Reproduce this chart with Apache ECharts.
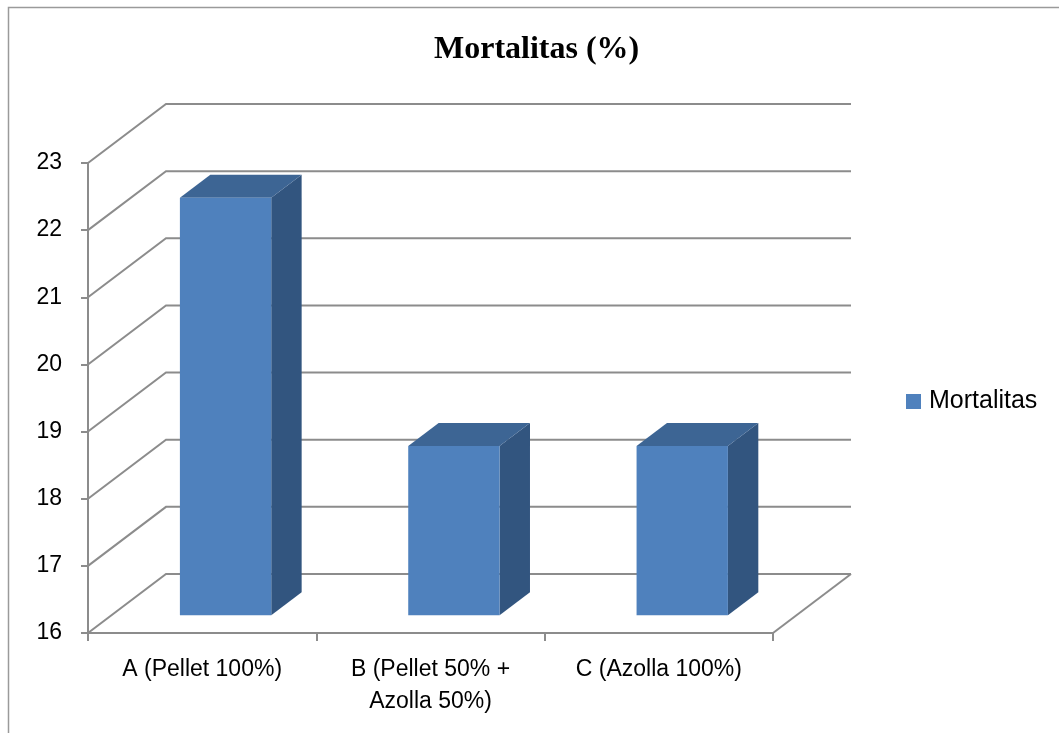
<!DOCTYPE html>
<html>
<head>
<meta charset="utf-8">
<script src="https://cdn.jsdelivr.net/npm/echarts@6/dist/echarts.min.js"></script>
<style>
  html, body { margin: 0; padding: 0; background: #ffffff; }
  #chart { width: 1059px; height: 733px; }
</style>
</head>
<body>
<div id="chart"></div>
<script>
// Treatments and mortality (%)
const categories = ['A (Pellet 100%)', 'B (Pellet 50% +\nAzolla 50%)', 'C (Azolla 100%)'];
const mortalitas = [22.22, 18.52, 18.52];
const yTicks = [16, 17, 18, 19, 20, 21, 22, 23];
const seriesName = 'Mortalitas';

// Oblique depth of the pseudo-3D box (pixels) and bar placement within it
const DEPTH_X = 78;
const DEPTH_Y = -59;
const BAR_FRONT = 0.30;
const BAR_BACK = 0.69;
const BAR_WIDTH_RATIO = 0.40;
const GRID_COLOR = '#8c8c8c';

const chart = echarts.init(document.getElementById('chart'));

// Side wall, back wall and floor lines, one polyline per tick value
function renderWalls(params, api) {
  const cs = params.coordSys;
  const v = api.value(1);
  const y = api.coord([0, v])[1];
  const x0 = cs.x;
  const x1 = cs.x + cs.width;
  const children = [{
    type: 'polyline',
    shape: { points: [[x0, y], [x0 + DEPTH_X, y + DEPTH_Y], [x1 + DEPTH_X, y + DEPTH_Y]] },
    style: { stroke: GRID_COLOR, lineWidth: 2, fill: null }
  }];
  if (v === yTicks[0]) {
    children.push({
      type: 'line',
      shape: { x1: x1, y1: y, x2: x1 + DEPTH_X, y2: y + DEPTH_Y },
      style: { stroke: GRID_COLOR, lineWidth: 2 }
    });
  }
  return { type: 'group', children: children };
}

// Box-shaped bars: front, top and right faces
function renderBar(params, api) {
  const i = api.value(0);
  const v = api.value(1);
  const top = api.coord([i, v]);
  const base = api.coord([i, yTicks[0]]);
  const half = api.size([1, 0])[0] * BAR_WIDTH_RATIO / 2;
  const xl = top[0] - half, xr = top[0] + half;
  const yt = top[1], yb = base[1];
  const fx = DEPTH_X * BAR_FRONT, fy = DEPTH_Y * BAR_FRONT;
  const bx = DEPTH_X * BAR_BACK, by = DEPTH_Y * BAR_BACK;
  return {
    type: 'group',
    children: [
      {
        type: 'polygon',
        shape: { points: [[xr + fx, yt + fy], [xr + bx, yt + by], [xr + bx, yb + by], [xr + fx, yb + fy]] },
        style: { fill: '#32557f' }
      },
      {
        type: 'polygon',
        shape: { points: [[xl + fx, yt + fy], [xr + fx, yt + fy], [xr + bx, yt + by], [xl + bx, yt + by]] },
        style: { fill: '#3d6594' }
      },
      {
        type: 'rect',
        shape: { x: xl + fx, y: yt + fy, width: xr - xl, height: yb - yt },
        style: { fill: '#4f81bd' }
      }
    ]
  };
}

const option = {
  backgroundColor: '#ffffff',
  animation: false,
  title: {
    text: 'Mortalitas (%)',
    left: 434,
    top: 34,
    padding: 0,
    textStyle: {
      fontFamily: 'Liberation Serif',
      fontWeight: 'bold',
      fontSize: 32,
      color: '#000000'
    }
  },
  legend: {
    data: [seriesName],
    left: 906,
    top: 389,
    padding: 0,
    icon: 'rect',
    itemWidth: 15,
    itemHeight: 15,
    itemGap: 6,
    textStyle: { fontFamily: 'Liberation Sans', fontSize: 25, color: '#000000', padding: [0, 0, 0, 3] }
  },
  grid: { left: 88, top: 163, width: 685, height: 470, containLabel: false },
  xAxis: {
    type: 'category',
    data: categories,
    boundaryGap: true,
    axisLine: { show: true, lineStyle: { color: GRID_COLOR, width: 2 } },
    axisTick: { show: true, length: 8, alignWithLabel: false, lineStyle: { color: GRID_COLOR, width: 2 } },
    axisLabel: {
      interval: 0,
      margin: 21,
      fontFamily: 'Liberation Sans',
      fontSize: 23,
      lineHeight: 32,
      color: '#000000'
    },
    splitLine: { show: false }
  },
  yAxis: {
    type: 'value',
    min: 16,
    max: 23,
    interval: 1,
    axisLine: { show: true, lineStyle: { color: GRID_COLOR, width: 2 } },
    axisTick: { show: true, length: 7, lineStyle: { color: GRID_COLOR, width: 2 } },
    axisLabel: {
      margin: 26,
      fontFamily: 'Liberation Sans',
      fontSize: 23,
      color: '#000000'
    },
    splitLine: { show: false }
  },
  graphic: [{
    type: 'rect',
    shape: { x: 8.5, y: 7.5, width: 1100, height: 800 },
    style: { fill: null, stroke: '#9a9a9a', lineWidth: 1.5 },
    silent: true,
    z: -10
  }],
  series: [
    {
      type: 'custom',
      name: 'walls',
      silent: true,
      z: 1,
      renderItem: renderWalls,
      encode: { x: 0, y: 1 },
      data: yTicks.map(function (v) { return [0, v]; })
    },
    {
      type: 'custom',
      name: seriesName,
      z: 5,
      itemStyle: { color: '#4f81bd' },
      renderItem: renderBar,
      encode: { x: 0, y: 1 },
      data: mortalitas.map(function (v, i) { return [i, v]; })
    }
  ]
};

chart.setOption(option);
</script>
</body>
</html>
